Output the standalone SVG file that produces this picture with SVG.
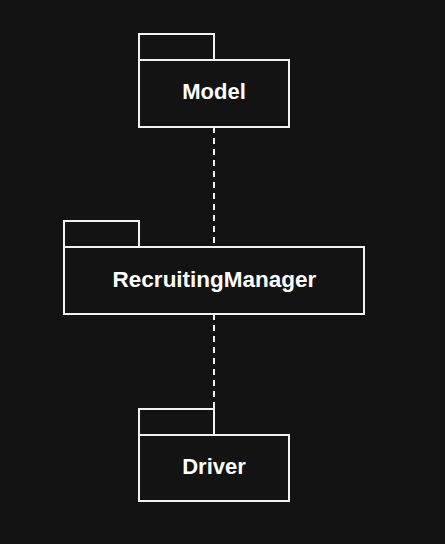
<svg xmlns="http://www.w3.org/2000/svg" width="445" height="544" viewBox="0 0 445 544">
  <defs>
    <style>
      .pkg { fill: #131313; stroke: #f2f2f2; stroke-width: 2; }
      .label { fill: #ffffff; font-family: "Liberation Sans", Arial, sans-serif; font-weight: bold; font-size: 22px; text-anchor: middle; }
      .dep { stroke: #f2f2f2; stroke-width: 2; stroke-dasharray: 6 5; fill: none; }
    </style>
  </defs>
  <rect width="445" height="544" fill="#131313"/>

  <g id="connectors">
    <line class="dep" x1="214" y1="127" x2="214" y2="247"/>
    <line class="dep" x1="214" y1="314" x2="214" y2="409"/>
  </g>

  <g id="model">
    <rect class="pkg" x="139" y="34" width="75" height="26"/>
    <rect class="pkg" x="139" y="60" width="150" height="67"/>
    <text class="label" x="214" y="99">Model</text>
  </g>

  <g id="recruiting-manager">
    <rect class="pkg" x="64" y="221" width="75" height="26"/>
    <rect class="pkg" x="64" y="247" width="300" height="67"/>
    <text class="label" x="214.5" y="287" style="font-size:22.5px">RecruitingManager</text>
  </g>

  <g id="driver">
    <rect class="pkg" x="139" y="409" width="75" height="26"/>
    <rect class="pkg" x="139" y="435" width="150" height="66"/>
    <text class="label" x="214" y="474">Driver</text>
  </g>
</svg>
